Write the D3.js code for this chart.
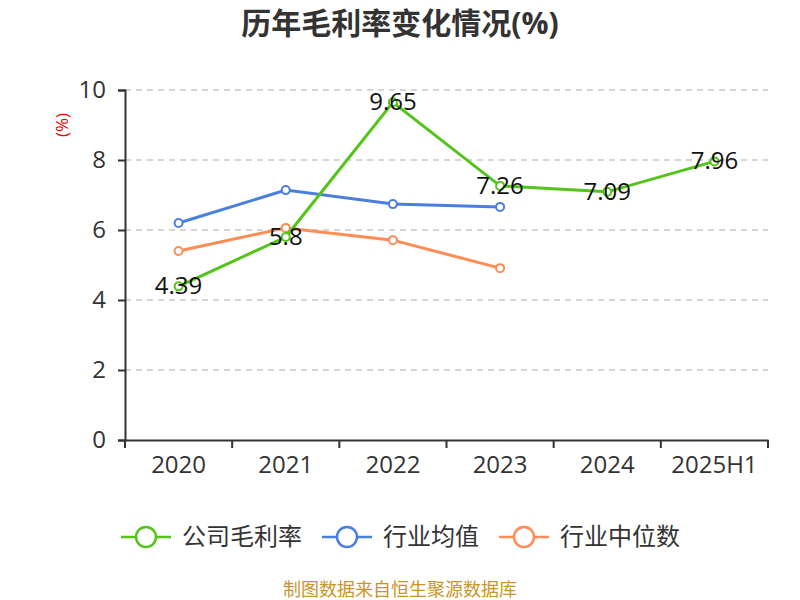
<!DOCTYPE html>
<html>
<head>
<meta charset="utf-8">
<script src="https://cdn.jsdelivr.net/npm/d3@7/dist/d3.min.js"></script>
<style>
  body { margin: 0; background: #fff; }
  text { font-family: "Open Sans", "Noto Sans CJK SC", sans-serif; }
</style>
</head>
<body>
<svg width="800" height="600"></svg>
<script>
const years = ['2020', '2021', '2022', '2023', '2024', '2025H1'];
const company = [4.39, 5.8, 9.65, 7.26, 7.09, 7.96];
const industryAvg = [6.2, 7.14, 6.74, 6.66];
const industryMedian = [5.4, 6.06, 5.71, 4.91];
const yTicks = [0, 2, 4, 6, 8, 10];

const seriesList = [
  {name: '公司毛利率', values: company, color: '#52c41a'},
  {name: '行业均值', values: industryAvg, color: '#4a7fe0'},
  {name: '行业中位数', values: industryMedian, color: '#ff8c55'}
];

const svg = d3.select('svg');
const plotLeft = 125, plotRight = 768, plotTop = 90, plotBottom = 440;

const xScale = d3.scaleBand().domain(years).range([plotLeft, plotRight]);
const yScale = d3.scaleLinear().domain([0, 10]).range([plotBottom, plotTop]);

// title
svg.append('text')
  .attr('x', 400).attr('y', 34)
  .attr('text-anchor', 'middle')
  .attr('font-size', 30).attr('font-weight', 'bold')
  .attr('fill', '#333')
  .text('历年毛利率变化情况(%)');

// grid
svg.append('g').selectAll('line')
  .data(yTicks.filter(d => d > 0))
  .enter().append('line')
  .attr('x1', plotLeft).attr('x2', plotRight)
  .attr('y1', d => yScale(d)).attr('y2', d => yScale(d))
  .attr('stroke', '#c8c8c8').attr('stroke-dasharray', '6,5').attr('stroke-width', 1.3);

// y axis
const yAxis = svg.append('g')
  .attr('transform', `translate(${plotLeft},0)`)
  .call(d3.axisLeft(yScale).tickValues(yTicks).tickSize(7).tickPadding(12));
yAxis.selectAll('text').attr('font-size', 24).attr('fill', '#333');
yAxis.selectAll('line, path').attr('stroke', '#333').attr('stroke-width', 2);

// x axis
const xAxis = svg.append('g')
  .attr('transform', `translate(0,${plotBottom})`)
  .call(d3.axisBottom(xScale).tickSize(0).tickPadding(16));
xAxis.selectAll('text').attr('font-size', 24).attr('fill', '#333');
xAxis.select('path').attr('stroke', '#333').attr('stroke-width', 2);
xAxis.selectAll('.bt').data(d3.range(years.length + 1)).enter().append('line')
  .attr('x1', i => plotLeft + i * xScale.step()).attr('x2', i => plotLeft + i * xScale.step())
  .attr('y1', 0).attr('y2', 8)
  .attr('stroke', '#333').attr('stroke-width', 2);

// unit label
svg.append('text')
  .attr('transform', 'translate(68,125) rotate(-90)')
  .attr('text-anchor', 'middle')
  .attr('font-size', 17).attr('fill', '#e00')
  .text('(%)');

const cx = (d, i) => xScale(years[i]) + xScale.bandwidth() / 2;
const line = d3.line().x(cx).y(d => yScale(d));

// draw industry lines first, company on top
[seriesList[1], seriesList[2], seriesList[0]].forEach(s => {
  svg.append('path')
    .datum(s.values)
    .attr('d', line)
    .attr('fill', 'none')
    .attr('stroke', s.color)
    .attr('stroke-width', 3);
  svg.append('g').selectAll('circle')
    .data(s.values)
    .enter().append('circle')
    .attr('cx', cx).attr('cy', d => yScale(d))
    .attr('r', 4)
    .attr('fill', '#fff').attr('stroke', s.color).attr('stroke-width', 2);
});

// labels
svg.append('g').selectAll('text')
  .data(company)
  .enter().append('text')
  .attr('x', cx).attr('y', d => yScale(d) + 8)
  .attr('text-anchor', 'middle')
  .attr('font-size', 24).attr('fill', '#111')
  .text(d => d);

// legend
const legendX = [121, 322, 499];
seriesList.forEach((s, i) => {
  const g = svg.append('g').attr('transform', `translate(${legendX[i]},537)`);
  g.append('line').attr('x1', 0).attr('x2', 50).attr('stroke', s.color).attr('stroke-width', 2.5);
  g.append('circle').attr('cx', 25).attr('r', 10).attr('fill', '#fff').attr('stroke', s.color).attr('stroke-width', 2.5);
  g.append('text').attr('x', 61).attr('y', 8).attr('font-size', 24).attr('fill', '#333').text(s.name);
});

// source
svg.append('text')
  .attr('x', 400).attr('y', 596)
  .attr('text-anchor', 'middle')
  .attr('font-size', 18).attr('fill', '#c8952a')
  .text('制图数据来自恒生聚源数据库');
</script>
</body>
</html>
